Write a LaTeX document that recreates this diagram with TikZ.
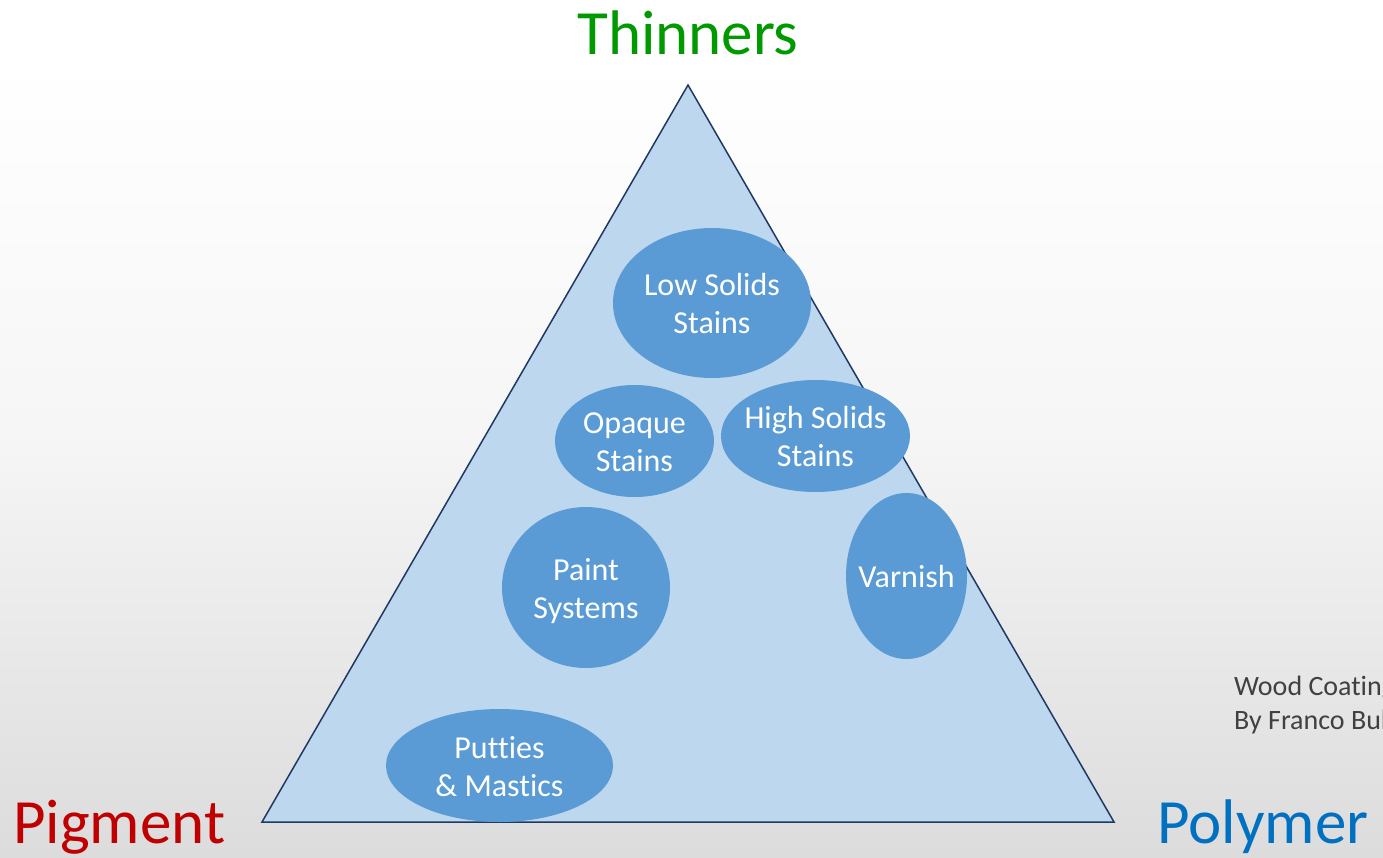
\documentclass[tikz,border=0pt]{standalone}
\usepackage{fontspec}
\setmainfont{Carlito}[Ligatures=NoCommon]
\usetikzlibrary{shapes.geometric}
\definecolor{triFill}{HTML}{BDD7EE}
\definecolor{triLine}{HTML}{1F3864}
\definecolor{blobFill}{HTML}{5B9BD5}
\definecolor{thinGreen}{HTML}{009A00}
\definecolor{pigRed}{HTML}{C00000}
\definecolor{polyBlue}{HTML}{0070C0}
\definecolor{noteGray}{HTML}{404040}
\definecolor{bgMid}{HTML}{F6F6F6}
\definecolor{bgLow}{HTML}{DCDCDC}
\begin{document}
\begin{tikzpicture}[x=1pt,y=-1pt,
  blob/.style={ellipse, fill=blobFill, inner sep=0pt},
  blobtext/.style={text=white, align=center, inner sep=0pt,
    font=\fontsize{32}{38}\selectfont},
  corner/.style={font=\fontsize{63}{70}\selectfont, inner sep=0pt},
  note/.style={font=\fontsize{28}{34}\selectfont, text=noteGray, inner sep=0pt, anchor=base west}]
  % background with a soft vertical gradient
  \useasboundingbox (0,0) rectangle (1383,857);
  \fill[white] (0,0) rectangle (1383,60);
  \shade[top color=white, bottom color=bgMid] (0,60) rectangle (1383,430);
  \shade[top color=bgMid, bottom color=bgLow] (0,430) rectangle (1383,857);

  % the coating triangle
  \coordinate (apex) at (688,85);
  \coordinate (bl) at (262,822);
  \coordinate (br) at (1114,822);
  \filldraw[fill=triFill, draw=triLine, line width=1.5pt, line join=miter] (apex) -- (br) -- (bl) -- cycle;

  % product families: fixed-size ellipses, captions set on top
  \node[blob, minimum width=198, minimum height=150] (low) at (712,303) {};
  \node[blob, minimum width=159, minimum height=112] (opaque) at (634.5,441) {};
  \node[blob, minimum width=189, minimum height=112] (high) at (815.5,436) {};
  \node[blob, minimum width=168, minimum height=161] (paint) at (586,587.5) {};
  \node[blob, minimum width=121, minimum height=166] (varnish) at (906.5,576) {};
  \node[blob, minimum width=227, minimum height=113] (putty) at (499.5,765.5) {};

  \node[blobtext] (lowtxt) at ([yshift=-1]low.center) {Low Solids\\Stains};
  \node[blobtext] (opaquetxt) at ([yshift=-1]opaque.center) {Opaque\\Stains};
  \node[blobtext] (hightxt) at (high) {High Solids\\Stains};
  \node[blobtext] (painttxt) at ([yshift=-4]paint.center) {Paint\\Systems};
  \node[blobtext] (varnishtxt) at (varnish) {Varnish};
  \node[blobtext] (puttytxt) at ([yshift=-1]putty.center) {Putties\\\& Mastics};

  % corner labels
  \node[corner, text=thinGreen, anchor=base] (thin) at (688,54) {Thinners};
  \node[corner, text=pigRed, anchor=base west] (pig) at (13,843) {Pigment};
  \node[corner, text=polyBlue, anchor=base west] (poly) at (1157,843) {Polymer};

  % source note, running off the right edge
  \begin{scope}
    \clip (0,0) rectangle (1383,857);
    \node[note] (src1) at (1234,695) {Wood Coatings};
    \node[note] (src2) at (1234,729) {By Franco Bulian};
  \end{scope}
\end{tikzpicture}
\end{document}
